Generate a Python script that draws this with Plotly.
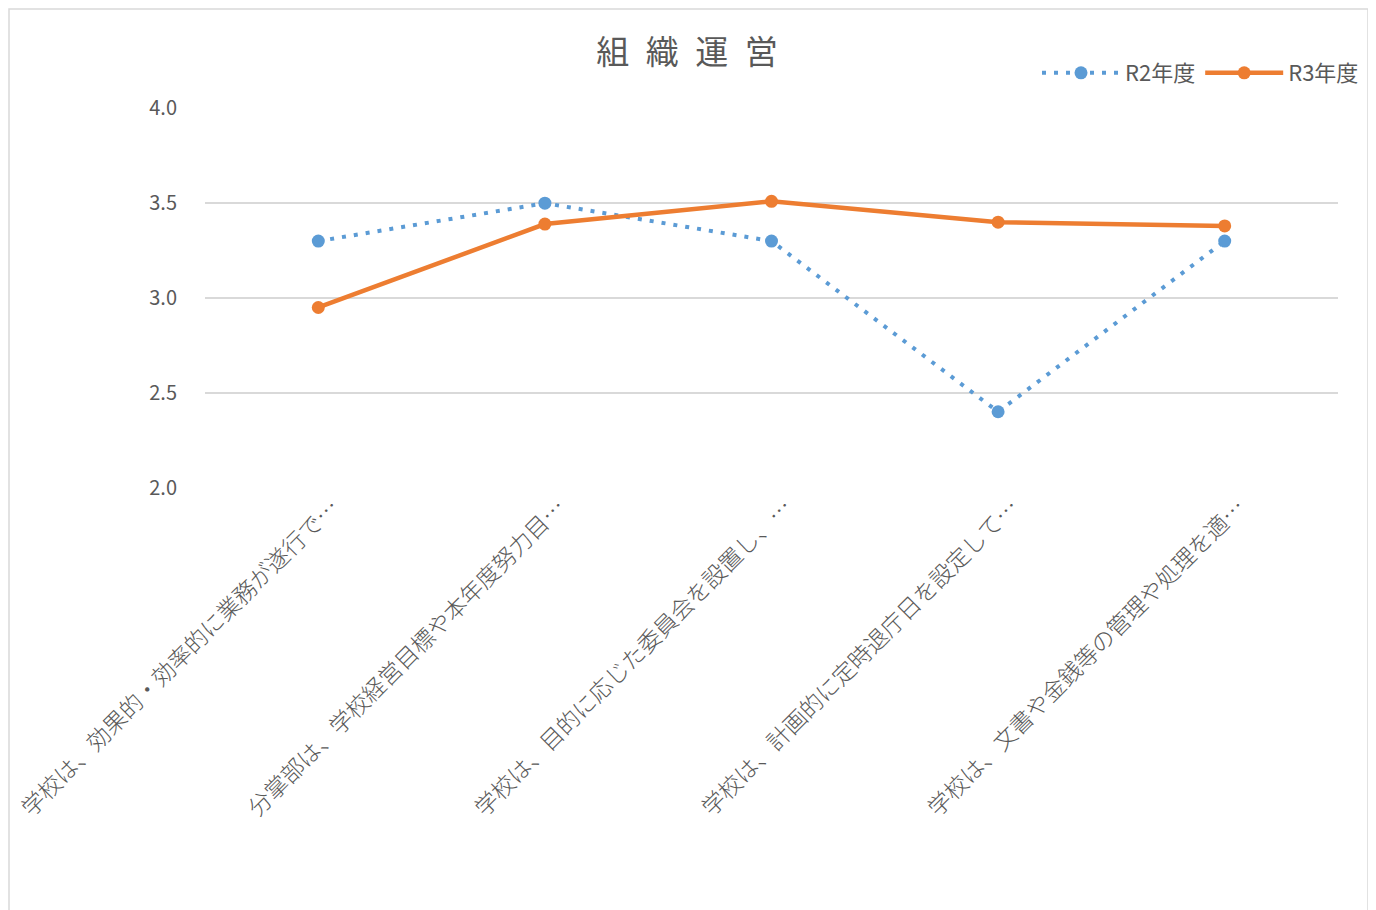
import plotly.graph_objects as go

categories = [
    "学校は、効果的・効率的に業務が遂行で…",
    "分掌部は、学校経営目標や本年度努力目…",
    "学校は、目的に応じた委員会を設置し、…",
    "学校は、計画的に定時退庁日を設定して…",
    "学校は、文書や金銭等の管理や処理を適…",
]
r2_values = [3.3, 3.5, 3.3, 2.4, 3.3]
r3_values = [2.95, 3.39, 3.51, 3.40, 3.38]
y_ticks = [2.0, 2.5, 3.0, 3.5, 4.0]

FONT = "Noto Sans CJK JP"
GRAY = "#595959"

fig = go.Figure()
fig.add_trace(go.Scatter(
    x=categories, y=r2_values, name="R2年度", mode="lines+markers",
    line=dict(color="#5B9BD5", width=4, dash="4px,8px"),
    marker=dict(color="#5B9BD5", size=13, symbol="circle"),
))
fig.add_trace(go.Scatter(
    x=categories, y=r3_values, name="R3年度", mode="lines+markers",
    line=dict(color="#ED7D31", width=4.5),
    marker=dict(color="#ED7D31", size=13, symbol="circle"),
))

OFF = 8  # page body margin
W, H = 1376 - OFF, 910 - OFF
L, T = 205 - OFF, 108 - OFF
R = W - (1338 - OFF)
B = H - (488 - OFF)
pw, ph = W - L - R, H - T - B

def px(xp):
    return (xp - OFF - L) / pw

def py(yp):
    return (T + ph - (yp - OFF)) / ph

fig.add_shape(type="rect", xref="paper", yref="paper",
              x0=px(OFF + 1), x1=px(1368), y0=py(940), y1=py(OFF + 1),
              line=dict(color="#D9D9D9", width=1.5), fillcolor="rgba(0,0,0,0)", layer="below")

fig.update_layout(
    width=W, height=H,
    margin=dict(l=L, r=R, t=T, b=B, autoexpand=False),
    paper_bgcolor="white", plot_bgcolor="white",
    font=dict(family=FONT, color=GRAY),
    title=dict(text="組\u2002織\u2002運\u2002営", x=px(687), xref="paper", xanchor="center",
               y=1 - (52 - OFF) / H, yanchor="middle",
               font=dict(size=33, color=GRAY, family=FONT)),
    legend=dict(orientation="h", x=px(1364), xanchor="right", y=py(73), yanchor="middle",
                yref="paper", font=dict(size=22, color=GRAY, family=FONT),
                bgcolor="rgba(0,0,0,0)", itemwidth=78),
    showlegend=True,
)
fig.update_xaxes(
    type="category", range=[-0.5, 4.5], showgrid=False, showline=False, ticks="",
    automargin=False, ticklabelshift=14,
    tickangle=-45, tickfont=dict(size=23, color=GRAY, family=FONT, weight=300),
)
fig.update_yaxes(
    range=[1.998, 4.002], tickvals=y_ticks, ticktext=[f"{v:.1f}" for v in y_ticks],
    automargin=False,
    showgrid=True, gridcolor="#D9D9D9", gridwidth=2, zeroline=False, showline=False,
    tickfont=dict(size=20, color=GRAY, family=FONT), ticklabelstandoff=27,
)

fig.write_html("out.html")
